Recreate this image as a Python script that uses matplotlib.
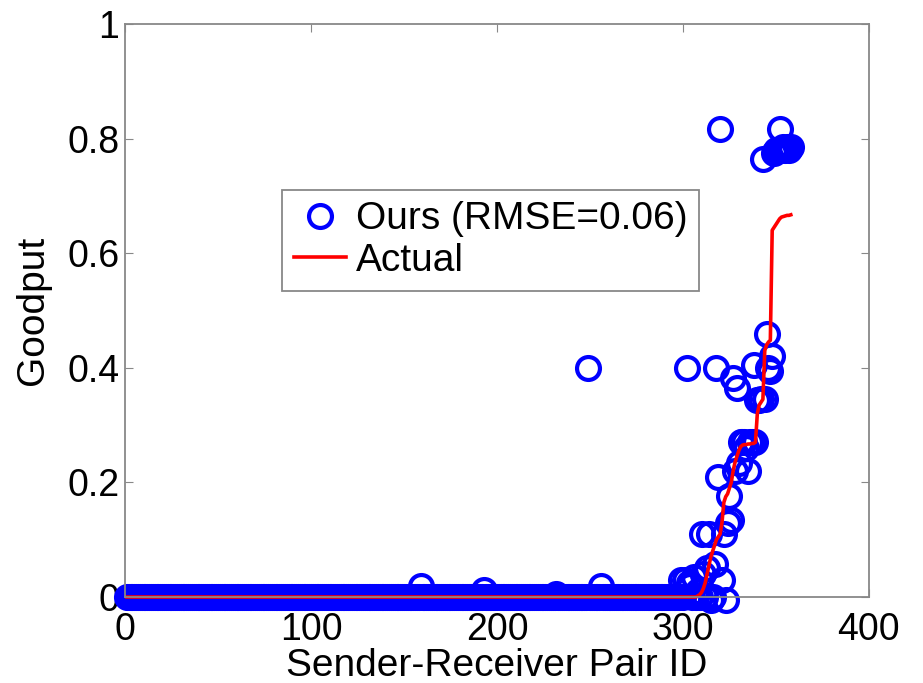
import numpy as np
import matplotlib.pyplot as plt
from matplotlib.ticker import FuncFormatter

plt.rcParams['font.family'] = ['Liberation Sans', 'DejaVu Sans']

n_pairs = 358

# predicted goodput: zero for every pair except these
ours_ids = [159, 193, 232, 249, 256, 299, 301, 302, 303, 304, 306, 308, 310, 311,
            313, 314, 315, 317, 318, 319, 320, 321, 322, 323, 324, 325, 326, 327,
            328, 329, 330, 331, 332, 333, 334, 335, 336, 337, 338, 339, 340, 341,
            342, 343, 344, 345, 346, 347, 348, 349, 350, 351, 352, 353, 354, 355,
            356, 357, 358]
ours_vals = [0.02, 0.012, 0.006, 0.40, 0.02, 0.03, 0.03, 0.40, 0.025, 0.02, 0.035,
             0.01, 0.11, 0.04, 0.05, 0.11, -0.005, 0.058, 0.40, 0.21, 0.817, 0.03,
             0.11, -0.005, 0.13, 0.177, 0.135, 0.383, 0.22, 0.365, 0.233, 0.27,
             0.27, 0.27, 0.26, 0.22, 0.27, 0.27, 0.405, 0.27, 0.343, 0.343, 0.345,
             0.765, 0.345, 0.459, 0.40, 0.395, 0.42, 0.775, 0.78, 0.78, 0.817,
             0.78, 0.785, 0.78, 0.785, 0.78, 0.785]

# measured goodput (sorted), zero below pair 305
actual_start = 305
actual_tail = [0.0, 0.0, 0.0, 0.002, 0.004, 0.008, 0.015, 0.025, 0.04, 0.055,
               0.07, 0.08, 0.09, 0.10, 0.105, 0.11, 0.13, 0.165, 0.175, 0.18,
               0.19, 0.20, 0.22, 0.235, 0.245, 0.255, 0.262, 0.265, 0.266, 0.266,
               0.267, 0.267, 0.268, 0.268, 0.27, 0.32, 0.335, 0.34, 0.345, 0.43,
               0.44, 0.445, 0.448, 0.64, 0.645, 0.65, 0.655, 0.66, 0.663, 0.664,
               0.665, 0.666, 0.666, 0.667]

ids = np.arange(1, n_pairs + 1)
ours = np.zeros(n_pairs)
ours[np.array(ours_ids) - 1] = ours_vals
actual = np.zeros(n_pairs)
actual[actual_start - 1:] = actual_tail

fig = plt.figure(figsize=(9.23, 6.83), dpi=100)
ax = fig.add_axes([0.1354, 0.1259, 0.806, 0.839])

ax.plot(ids, ours, 'o', markersize=16.5, markerfacecolor='none',
        markeredgecolor='#0000ff', markeredgewidth=3.0, clip_on=False,
        label='Ours (RMSE=0.06)')
ax.plot(ids, actual, '-', color='#ff0000', linewidth=2.6, clip_on=False,
        label='Actual')

ax.set_xlim(0, 400)
ax.set_ylim(0, 1)
ax.set_xticks([0, 100, 200, 300, 400])
ax.set_yticks([0, 0.2, 0.4, 0.6, 0.8, 1])
ax.yaxis.set_major_formatter(FuncFormatter(lambda v, p: '%g' % v))
ax.tick_params(direction='in', length=6, width=0.8, color='#888888',
               labelsize=27, top=True, right=True)
ax.tick_params(axis='x', pad=11)
ax.tick_params(axis='y', pad=4)
for s in ax.spines.values():
    s.set_color('#888888')
    s.set_linewidth(1.3)

ax.set_xlabel('Sender-Receiver Pair ID', fontsize=28, labelpad=0)
ax.set_ylabel('Goodput', fontsize=28, labelpad=12)

leg = ax.legend(loc='upper left', bbox_to_anchor=(0.211, 0.711), borderaxespad=0,
                fontsize=28, numpoints=1, handlelength=1.35, handletextpad=0.25,
                borderpad=0.3, labelspacing=0.15, fancybox=False, framealpha=1)
leg.get_frame().set_edgecolor('#888888')
leg.get_frame().set_linewidth(1.3)

fig.savefig('out.png', dpi=100)
